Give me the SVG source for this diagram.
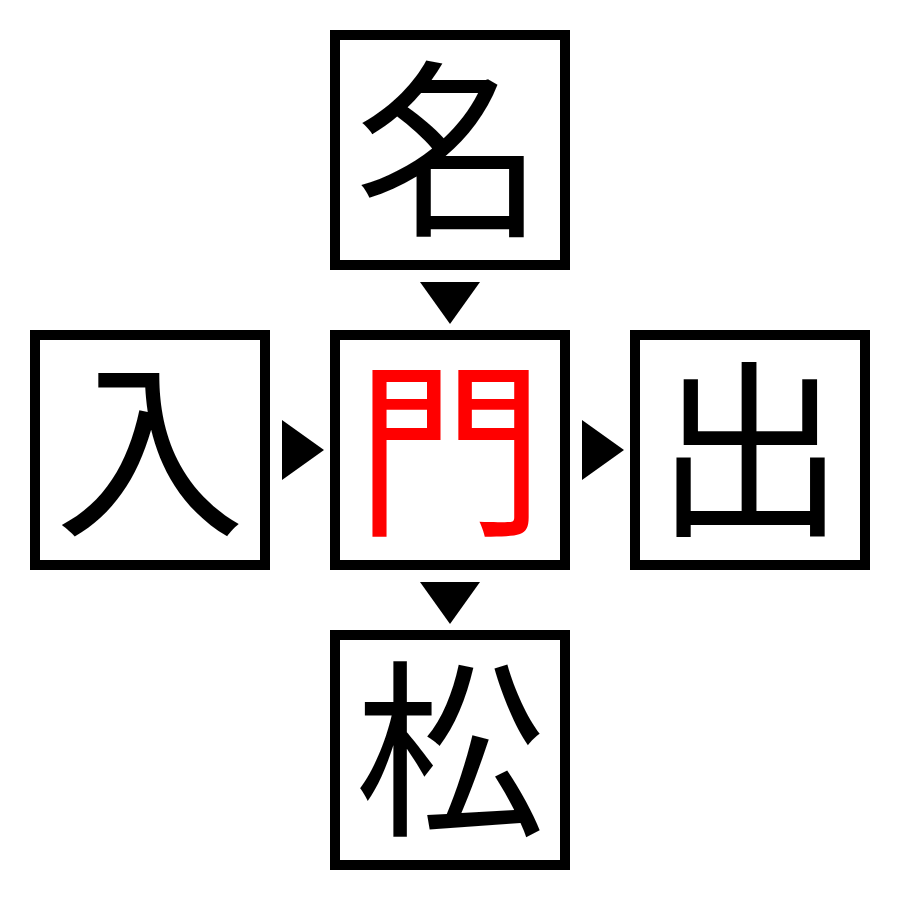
<svg xmlns="http://www.w3.org/2000/svg" width="900" height="900" viewBox="0 0 900 900">
<style>
.box{fill:#fff;stroke:#000;stroke-width:10}
.ch{font-family:"Noto Sans CJK JP","Noto Sans CJK SC",sans-serif;font-size:190px;text-anchor:middle;fill:#000}
.red{fill:#ff0000}
.arr{fill:#000}
</style>
<rect width="900" height="900" fill="#fff"/>
<g id="node-top"><rect class="box" x="335" y="35" width="230" height="230"/><text class="ch" x="450" y="221">名</text></g>
<g id="node-left"><rect class="box" x="35" y="335" width="230" height="230"/><text class="ch" x="150" y="521">入</text></g>
<g id="node-center"><rect class="box" x="335" y="335" width="230" height="230"/><text class="ch red" x="450" y="521">門</text></g>
<g id="node-right"><rect class="box" x="635" y="335" width="230" height="230"/><text class="ch" x="750" y="521">出</text></g>
<g id="node-bottom"><rect class="box" x="335" y="635" width="230" height="230"/><text class="ch" x="450" y="821">松</text></g>
<g id="connectors">
<polygon class="arr" points="420,282 480,282 450,324"/>
<polygon class="arr" points="282,420 282,480 324,450"/>
<polygon class="arr" points="582,420 582,480 624,450"/>
<polygon class="arr" points="420,582 480,582 450,624"/>
</g>
</svg>
